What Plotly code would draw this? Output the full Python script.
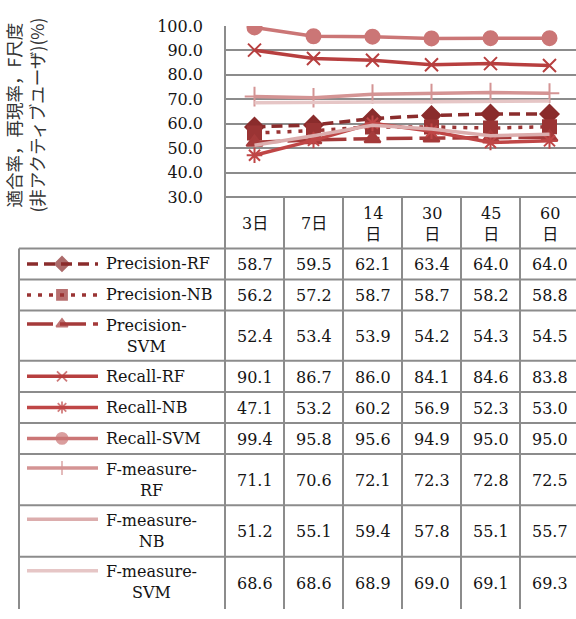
import plotly.graph_objects as go

# Observation periods and measured scores (%)
periods = ["3日", "7日", "14日", "30日", "45日", "60日"]
period_labels = ["3日", "7日", "14<br>日", "30<br>日", "45<br>日", "60<br>日"]

series_names = [
    "Precision-RF", "Precision-NB", "Precision-SVM",
    "Recall-RF", "Recall-NB", "Recall-SVM",
    "F-measure-RF", "F-measure-NB", "F-measure-SVM",
]
series_labels = [
    "Precision-RF", "Precision-NB", "Precision-<br>SVM",
    "Recall-RF", "Recall-NB", "Recall-SVM",
    "F-measure-<br>RF", "F-measure-<br>NB", "F-measure-<br>SVM",
]
precision_rf = [58.7, 59.5, 62.1, 63.4, 64.0, 64.0]
precision_nb = [56.2, 57.2, 58.7, 58.7, 58.2, 58.8]
precision_svm = [52.4, 53.4, 53.9, 54.2, 54.3, 54.5]
recall_rf = [90.1, 86.7, 86.0, 84.1, 84.6, 83.8]
recall_nb = [47.1, 53.2, 60.2, 56.9, 52.3, 53.0]
recall_svm = [99.4, 95.8, 95.6, 94.9, 95.0, 95.0]
fmeasure_rf = [71.1, 70.6, 72.1, 72.3, 72.8, 72.5]
fmeasure_nb = [51.2, 55.1, 59.4, 57.8, 55.1, 55.7]
fmeasure_svm = [68.6, 68.6, 68.9, 69.0, 69.1, 69.3]

all_values = [precision_rf, precision_nb, precision_svm,
              recall_rf, recall_nb, recall_svm,
              fmeasure_rf, fmeasure_nb, fmeasure_svm]

# Styles per series
colors = ["#8a2c2c", "#9a3434", "#a53a3a", "#b73f3f", "#bf4646",
          "#cb7676", "#d49494", "#dcadad", "#e6c6c6"]
dashes = ["11px,6px", "4px,7px", "26px,7px", "solid", "solid",
          "solid", "solid", "solid", "solid"]
symbols = ["diamond", "square", "triangle-up", "x-thin-open", "asterisk-open",
           "circle", "cross-thin-open", None, None]
msizes = [14, 13, 14, 13, 13, 14, 14, 0, 0]
key_sizes = [11, 10, 10, 10, 10, 11, 10, 0, 0]

W, H = 576, 619
SERIF = "DejaVu Serif, Noto Sans CJK JP"
GRID = "#8c8c8c"
TXT = "#151515"
FS = 16

# Table geometry (pixels)
col_left = 225
col_w = 59
col_edges = [col_left + i * col_w for i in range(len(periods) + 1)]
table_left = 19
header_top, header_bottom = 194, 247
row_heights = [32, 32, 52, 32, 32, 32, 53, 53, 53]
row_edges = [header_bottom]
for h in row_heights:
    row_edges.append(row_edges[-1] + h)

# Plot area (pixels)
plot_top, plot_bottom = 17.5, 194

fig = go.Figure()

# Chart lines
xs = list(range(len(periods)))
for name, vals, c, d, s, ms in zip(series_names, all_values, colors, dashes, symbols, msizes):
    marker = dict(size=ms, color=c, symbol=s if s else "circle",
                  line=dict(color=c, width=2))
    fig.add_trace(go.Scatter(
        x=xs, y=vals, name=name, mode="lines+markers" if s else "lines",
        line=dict(color=c, width=3.5, dash=d), marker=marker,
        showlegend=False, xaxis="x", yaxis="y", hoverinfo="skip"))

# Legend keys inside the table
key_x = [27, 62, 98]
key_offsets = [0, 0, -12, 0, 0, 0, -12, -12, -12]
for i, (c, d, s, ks) in enumerate(zip(colors, dashes, symbols, key_sizes)):
    yc = (row_edges[i] + row_edges[i + 1]) / 2 + key_offsets[i]
    fig.add_trace(go.Scatter(
        x=key_x, y=[yc] * 3, mode="lines+markers",
        line=dict(color=c, width=3.5, dash=d),
        marker=dict(size=[0, ks, 0], color=c, symbol=s if s else "circle",
                    line=dict(color=c, width=1.8)),
        showlegend=False, xaxis="x2", yaxis="y2", hoverinfo="skip"))

shapes = []
def hline(x0, x1, y):
    shapes.append(dict(type="line", xref="x2", yref="y2", x0=x0, x1=x1, y0=y, y1=y,
                       line=dict(color=GRID, width=2), layer="above"))
def vline(x, y0, y1):
    shapes.append(dict(type="line", xref="x2", yref="y2", x0=x, x1=x, y0=y0, y1=y1,
                       line=dict(color=GRID, width=2), layer="above"))

# Table grid
hline(col_left, W + 5, header_top)
for y in row_edges[:-1]:
    hline(table_left, W + 5, y)
vline(table_left, header_bottom, H + 2)
vline(col_left, plot_top, H + 2)
for x in col_edges[1:]:
    vline(x, header_top, H + 2)

annotations = []
# Column headers
for j, lab in enumerate(period_labels):
    cx = (col_edges[j] + col_edges[j + 1]) / 2
    annotations.append(dict(x=cx, y=(header_top + header_bottom) / 2 + 1, xref="x2", yref="y2",
                            text=lab, showarrow=False, align="center",
                            font=dict(family=SERIF, size=FS, color=TXT)))
# Row labels and values
for i, (lab, vals) in enumerate(zip(series_labels, all_values)):
    cy = (row_edges[i] + row_edges[i + 1]) / 2
    annotations.append(dict(x=104, y=cy, xref="x2", yref="y2", xanchor="left",
                            text=lab, showarrow=False, align="center",
                            font=dict(family=SERIF, size=FS, color=TXT)))
    for j, v in enumerate(vals):
        cx = (col_edges[j] + col_edges[j + 1]) / 2
        annotations.append(dict(x=cx, y=cy + 1, xref="x2", yref="y2",
                                text=f"{v:.1f}", showarrow=False,
                                font=dict(family=SERIF, size=FS, color=TXT)))

# Vertical axis title
annotations.append(dict(x=25, y=110, xref="x2", yref="y2", textangle=-90,
                        text="適合率，再現率，F尺度<br>(非アクティブユーザ)(%)",
                        showarrow=False, align="center",
                        font=dict(family="Noto Sans CJK JP", size=17.5, color="#333333")))

x_hi = (len(periods) - 0.5) - (col_edges[-1] - W) / col_w
fig.update_layout(
    width=W, height=H, margin=dict(l=0, r=0, t=0, b=0),
    paper_bgcolor="white", plot_bgcolor="rgba(0,0,0,0)",
    xaxis=dict(domain=[col_left / W, 1], range=[-0.5, x_hi], showgrid=False,
               showticklabels=False, zeroline=False, showline=False, fixedrange=True),
    yaxis=dict(domain=[(H - plot_bottom) / H, (H - plot_top) / H], range=[30, 100],
               dtick=10, tick0=30, tickformat=".1f", showgrid=True, gridcolor=GRID,
               gridwidth=2, zeroline=False, showline=False, ticks="",
               ticklabelstandoff=21,
               tickfont=dict(family=SERIF, size=FS, color=TXT)),
    xaxis2=dict(domain=[0, 1], range=[0, W], visible=False, anchor="y2", fixedrange=True),
    yaxis2=dict(domain=[0, 1], range=[H, 0], visible=False, anchor="x2", fixedrange=True),
    shapes=shapes, annotations=annotations,
)

fig.write_html("out.html")
